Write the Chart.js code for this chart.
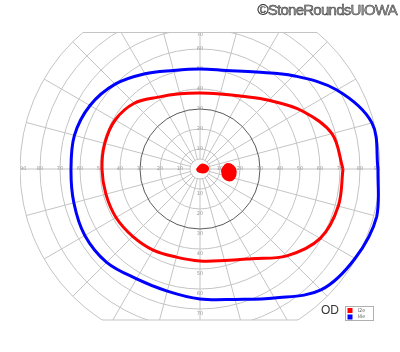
<!DOCTYPE html>
<html>
<head>
<meta charset="utf-8">
<script src="https://cdn.jsdelivr.net/npm/chart.js@4.4.1/dist/chart.umd.min.js"></script>
<style>
  html, body { margin: 0; padding: 0; background: #fff; }
  #wrap { position: relative; width: 400px; height: 352px; }
  #mark { position: absolute; right: 3px; top: 1px; font: 15px "Liberation Sans", Arial, sans-serif;
          color: #9a9a9a; -webkit-text-stroke: 0.45px #2a2a2a; letter-spacing: -0.75px; white-space: nowrap; }
  #eye { position: absolute; left: 321px; top: 303px; font: 12px "Liberation Sans", Arial, sans-serif; color: #333; }
</style>
</head>
<body>
<div id="wrap">
  <canvas id="c" width="400" height="352"></canvas>
  <div id="mark">©StoneRoundsUIOWA</div>
  <div id="eye">OD</div>
</div>
<script>
// Meridians (degrees, 0 = right, counter-clockwise) and isopter eccentricities (degrees)
const meridians = [0, 15, 30, 45, 60, 75, 90, 105, 120, 135, 150, 165, 180, 195, 210, 225, 240, 255, 270, 285, 300, 315, 330, 345];
const isopterLabels = ['I2e', 'I4e'];
const i2eEcc = [71.5, 68.3, 58.5, 48.6, 42, 38.8, 38, 38.9, 41.5, 46.5, 49, 49.3, 49, 48.7, 48.5, 47.6, 46.8, 45.6, 46, 47.4, 51.8, 61.4, 69.4, 71.6];
const i4eEcc = [89, 89, 79, 66, 56, 51, 50, 51, 55, 60, 63.5, 65, 64.5, 65.3, 66.5, 66, 63.4, 63.2, 65, 67.5, 74.5, 85.5, 89.5, 91.5];
// Scotomas traced as outlines (x, y in degrees)
const blindSpotX = [10.8, 13.3, 16.7, 18, 17, 14.2, 11.7];
const blindSpotY = [-0.5, 2.5, 1.5, -1.3, -4.7, -5.8, -4.2];
const centralX = [-1.7, 0.8, 3.3, 4.2, 3, 0.8, -0.8];
const centralY = [-0.2, 2.3, 1.7, 0, -1.5, -1.8, -1.3];
// Grid
const ringValues = [5, 10, 20, 30, 40, 50, 60, 70, 80, 90];
const spokeAngles = [0, 15, 30, 45, 60, 75, 90, 105, 120, 135, 150, 165, 180, 195, 210, 225, 240, 255, 270, 285, 300, 315, 330, 345];
const tickLabels = ['10', '20', '30', '40', '50', '60', '70', '80', '90'];
const fieldLimits = { xMin: -90, xMax: 90, yMin: -75.5, yMax: 68.25 };

function polarPoints(ecc) {
  const pts = meridians.map((a, i) => {
    const t = a * Math.PI / 180;
    return { x: ecc[i] * Math.cos(t), y: ecc[i] * Math.sin(t) };
  });
  pts.push(pts[0]);
  return pts;
}
function outline(xs, ys) {
  const pts = xs.map((x, i) => ({ x: x, y: ys[i] }));
  pts.push(pts[0]);
  return pts;
}

const gridPlugin = {
  id: 'goldmannGrid',
  beforeDatasetsDraw(chart) {
    const { ctx, chartArea: a } = chart;
    const xs = chart.scales.x, ys = chart.scales.y;
    const cx = xs.getPixelForValue(0), cy = ys.getPixelForValue(0);
    ctx.save();
    ctx.beginPath();
    ctx.rect(a.left, a.top, a.right - a.left, a.bottom - a.top);
    ctx.clip();
    ctx.lineWidth = 1;
    ctx.strokeStyle = '#c4c4c4';
    spokeAngles.forEach(ang => {
      const t = ang * Math.PI / 180;
      ctx.beginPath();
      ctx.moveTo(xs.getPixelForValue(5 * Math.cos(t)), ys.getPixelForValue(5 * Math.sin(t)));
      ctx.lineTo(xs.getPixelForValue(90 * Math.cos(t)), ys.getPixelForValue(90 * Math.sin(t)));
      ctx.stroke();
    });
    ringValues.forEach(r => {
      const rx = xs.getPixelForValue(r) - cx, ry = cy - ys.getPixelForValue(r);
      ctx.strokeStyle = r === 30 ? '#5a5a5a' : '#c4c4c4';
      ctx.beginPath();
      ctx.ellipse(cx, cy, rx, ry, 0, 0, Math.PI * 2);
      ctx.stroke();
    });
    ctx.fillStyle = '#9a9a9a';
    ctx.font = '5px "DejaVu Sans", sans-serif';
    ctx.textBaseline = 'middle';
    tickLabels.forEach(lab => {
      const r = Number(lab);
      const px = xs.getPixelForValue(r) - cx;
      ctx.textAlign = r === 90 ? 'right' : 'center';
      ctx.fillText(lab, cx + px, cy);
      ctx.textAlign = r === 90 ? 'left' : 'center';
      ctx.fillText(lab, cx - px, cy);
      ctx.textAlign = 'center';
      if (r <= fieldLimits.yMax + 3) {
        ctx.fillText(lab, cx, Math.max(ys.getPixelForValue(r), a.top + 2));
      }
      if (r <= -fieldLimits.yMin) {
        ctx.fillText(lab, cx, ys.getPixelForValue(-r) + 5);
      }
    });
    ctx.restore();
    ctx.save();
    ctx.strokeStyle = '#c4c4c4';
    ctx.lineWidth = 1;
    [fieldLimits.yMax, fieldLimits.yMin].forEach(v => {
      const half = Math.sqrt(90 * 90 - v * v);
      const py = ys.getPixelForValue(v);
      ctx.beginPath();
      ctx.moveTo(xs.getPixelForValue(-half), py);
      ctx.lineTo(xs.getPixelForValue(half), py);
      ctx.stroke();
    });
    ctx.restore();
  }
};

const legendPlugin = {
  id: 'boxLegend',
  afterDraw(chart) {
    const { ctx } = chart;
    const items = chart.data.datasets.filter(d => d.inLegend);
    const x0 = 345.5, y0 = 306.5, w = 28, h = 14;
    ctx.save();
    ctx.strokeStyle = '#b0b0b0';
    ctx.lineWidth = 1;
    ctx.strokeRect(x0, y0, w, h);
    ctx.font = '5px "DejaVu Sans", sans-serif';
    ctx.textBaseline = 'middle';
    items.forEach((d, i) => {
      const yy = y0 + 1.5 + i * 6.5;
      ctx.fillStyle = d.borderColor;
      ctx.fillRect(x0 + 2, yy, 5, 5);
      ctx.fillStyle = '#666';
      ctx.fillText(d.label, x0 + 12, yy + 2.6);
    });
    ctx.restore();
  }
};

new Chart(document.getElementById('c'), {
  type: 'scatter',
  data: {
    datasets: [
      { label: isopterLabels[0], inLegend: true, data: polarPoints(i2eEcc), showLine: true, tension: 0.35,
        borderColor: 'rgb(255,0,0)', borderWidth: 3, pointRadius: 0, fill: false },
      { label: isopterLabels[1], inLegend: true, data: polarPoints(i4eEcc), showLine: true, tension: 0.35,
        borderColor: 'rgb(0,0,255)', borderWidth: 3, pointRadius: 0, fill: false },
      { label: 'blind spot', data: outline(blindSpotX, blindSpotY), showLine: true, tension: 0.4,
        borderColor: 'rgb(255,0,0)', backgroundColor: 'rgb(255,0,0)', borderWidth: 1.5, pointRadius: 0, fill: 'shape' },
      { label: 'central', data: outline(centralX, centralY), showLine: true, tension: 0.4,
        borderColor: 'rgb(255,0,0)', backgroundColor: 'rgb(255,0,0)', borderWidth: 1.5, pointRadius: 0, fill: 'shape' }
    ]
  },
  options: {
    responsive: false,
    animation: false,
    layout: { padding: { left: 20, right: 20, top: 32.5, bottom: 32 } },
    scales: {
      x: { type: 'linear', min: fieldLimits.xMin, max: fieldLimits.xMax, display: false },
      y: { type: 'linear', min: fieldLimits.yMin, max: fieldLimits.yMax, display: false }
    },
    plugins: { legend: { display: false }, tooltip: { enabled: false } }
  },
  plugins: [gridPlugin, legendPlugin]
});
</script>
</body>
</html>
